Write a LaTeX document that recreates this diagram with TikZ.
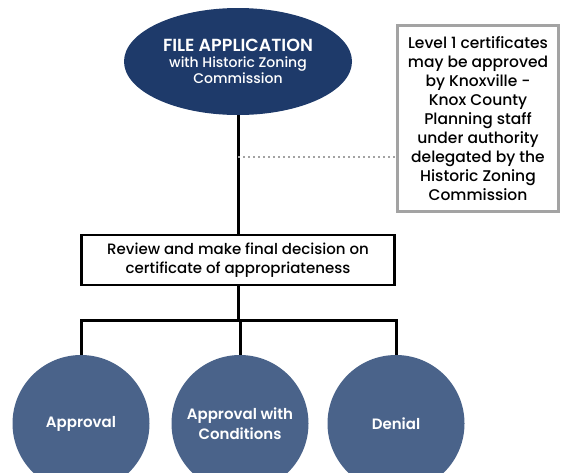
\documentclass[tikz,border=0pt]{standalone}
\usepackage{fontspec}
\setmainfont{Poppins Medium}[BoldFont={Poppins SemiBold}]
\usetikzlibrary{positioning,shapes.geometric,calc}
\definecolor{navy}{HTML}{1E3A6A}
\definecolor{slate}{HTML}{4A638A}
\definecolor{notegray}{HTML}{A3A3A3}
\tikzset{
  startoval/.style={ellipse, fill=navy, text=white, align=center, minimum width=228pt, minimum height=107pt, inner sep=0pt, font=\fontsize{14}{16}\selectfont},
  decisionbox/.style={draw=black, line width=2.5pt, fill=white, align=center, minimum width=313pt, minimum height=50pt, inner sep=0pt, font=\fontsize{15}{19}\selectfont},
  notebox/.style={draw=notegray, line width=3pt, fill=white, align=center, minimum width=161pt, minimum height=186pt, inner sep=0pt, font=\fontsize{15.5}{19}\selectfont},
  outcome/.style={circle, fill=slate, text=white, align=center, minimum size=137pt, inner sep=0pt, font=\fontsize{15}{20}\selectfont\bfseries},
  link/.style={draw=black, line width=3pt},
  dots/.style={draw=notegray, line width=2pt, dash pattern=on 2pt off 3pt}
}
\begin{document}
\begin{tikzpicture}[x=1pt, y=-1pt]
  \useasboundingbox (0,0) rectangle (561,472);
  \clip (0,0) rectangle (561,472);
  % top of the chart
  \node[startoval] (apply) at (238,61.5) {{\bfseries\fontsize{17.5}{17}\selectfont FILE APPLICATION}\\with Historic Zoning\\Commission};
  \node[notebox] (level1) at (478,118.5) {Level 1 certificates\\may be approved\\by Knoxville -\\Knox County\\Planning staff\\under authority\\delegated by the\\Historic Zoning\\Commission};
  \node[decisionbox] (review) at (238,260) {Review and make final decision on\\certificate of appropriateness};
  % outcomes
  \node[outcome] (approve) at (81,423.5) {Approval};
  \node[outcome] (conditions) at (240,423.5) {Approval with\\Conditions};
  \node[outcome] (deny) at (396,423.5) {Denial};
  \coordinate (tap) at (238,157);
  \coordinate (split) at (238,320);
  \draw[link] (apply.south) -- (review.north);
  \draw[dots] (tap) -- (tap -| level1.west);
  \draw[link] (review.south) -- (split);
  \draw[link] (approve.north) |- (split) -| (deny.north);
  \draw[link] (split) -- (split -| conditions.north) -- (conditions.north);
\end{tikzpicture}
\end{document}
